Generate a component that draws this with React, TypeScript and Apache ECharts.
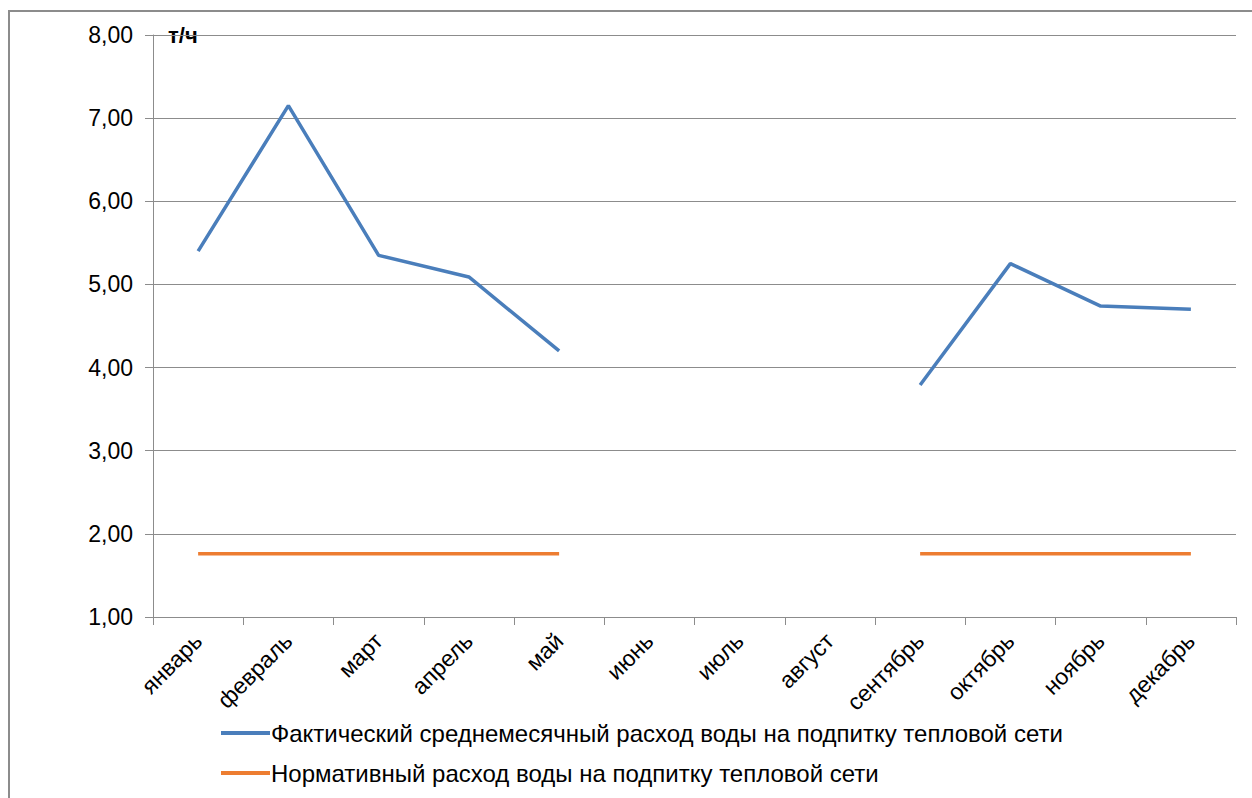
import React, { useEffect, useRef } from "react";
import * as echarts from "echarts";

const months = ["январь", "февраль", "март", "апрель", "май", "июнь", "июль", "август", "сентябрь", "октябрь", "ноябрь", "декабрь"];
const actual = [5.4, 7.15, 5.35, 5.09, 4.2, null, null, null, 3.79, 5.25, 4.74, 4.7];
const norm = [1.76, 1.76, 1.76, 1.76, 1.76, null, null, null, 1.76, 1.76, 1.76, 1.76];
const seriesNames = [
  "Фактический среднемесячный расход воды на подпитку тепловой сети",
  "Нормативный расход воды на подпитку тепловой сети",
];
const unitLabel = "т/ч";

export default function App() {
  const ref = useRef<HTMLDivElement>(null);
  useEffect(() => {
    if (!ref.current) return;
    const chart = echarts.init(ref.current, null, { renderer: "svg" });
    const font = "'Liberation Sans', Arial, sans-serif";
    chart.setOption({
      animation: false,
      backgroundColor: "#ffffff",
      grid: { left: 153, right: 16, top: 35, bottom: 181 },
      graphic: [
        {
          type: "rect",
          shape: { x: 9, y: 11, width: 1300, height: 900 },
          style: { fill: "none", stroke: "#8c8c8c", lineWidth: 2 },
          silent: true,
        },
        {
          type: "text",
          x: 168,
          y: 35,
          style: {
            text: unitLabel,
            fontFamily: font,
            fontWeight: "bold",
            fontSize: 22,
            fill: "#000",
            verticalAlign: "middle",
          },
        },
      ],
      legend: {
        orient: "vertical",
        left: 216,
        top: 716,
        itemWidth: 49,
        itemHeight: 4,
        itemGap: 16,
        icon: "rect",
        textStyle: { fontFamily: font, fontSize: 24, color: "#000", padding: [0, 0, 0, -4] },
        data: seriesNames,
      },
      xAxis: {
        type: "category",
        data: months,
        boundaryGap: true,
        axisLine: { lineStyle: { color: "#8c8c8c", width: 1 } },
        axisTick: { show: true, length: 8, lineStyle: { color: "#8c8c8c" } },
        axisLabel: { rotate: 45, fontFamily: font, fontSize: 23, color: "#000", margin: 20, interval: 0 },
      },
      yAxis: {
        type: "value",
        min: 1,
        max: 8,
        interval: 1,
        axisLine: { show: true, lineStyle: { color: "#8c8c8c", width: 1 } },
        axisTick: { show: true, length: 8, lineStyle: { color: "#8c8c8c" } },
        splitLine: { lineStyle: { color: "#8c8c8c", width: 1 } },
        axisLabel: {
          fontFamily: font,
          fontSize: 23,
          color: "#000",
          margin: 20,
          formatter: (v: number) => v.toFixed(2).replace(".", ","),
        },
      },
      series: [
        {
          name: seriesNames[0],
          type: "line",
          data: actual,
          symbol: "none",
          connectNulls: false,
          lineStyle: { color: "#4A7EBB", width: 3.5 },
          itemStyle: { color: "#4A7EBB" },
        },
        {
          name: seriesNames[1],
          type: "line",
          data: norm,
          symbol: "none",
          connectNulls: false,
          lineStyle: { color: "#ED7D31", width: 3.5 },
          itemStyle: { color: "#ED7D31" },
        },
      ],
    });
    return () => chart.dispose();
  }, []);
  return (
    <div
      ref={ref}
      style={{ position: "fixed", left: 0, top: 0, width: 1252, height: 798 }}
    />
  );
}
